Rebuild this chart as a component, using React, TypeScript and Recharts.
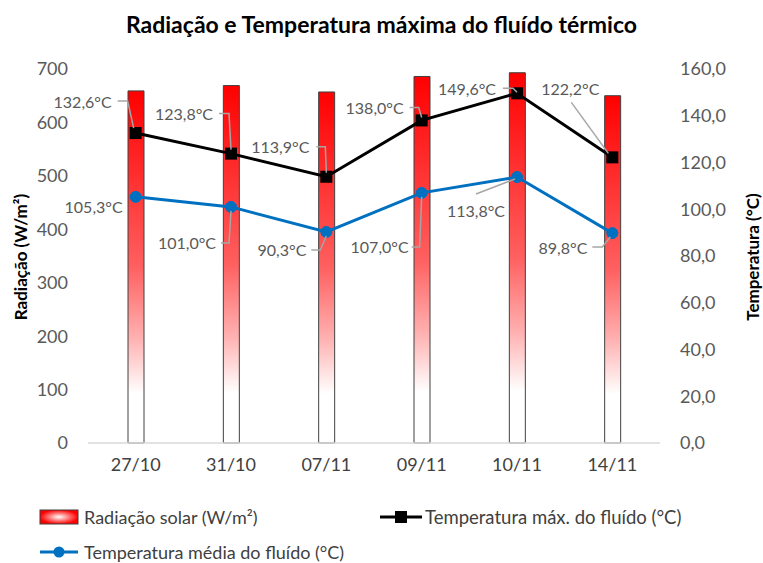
import React from "react";
import {
  ComposedChart,
  Bar,
  Line,
  XAxis,
  YAxis,
  Legend,
  LabelList,
  Label,
} from "recharts";

const categories = ["27/10", "31/10", "07/11", "09/11", "10/11", "14/11"];
const radiation = [659, 669, 657, 686, 693, 650];
const tempMax = [132.6, 123.8, 113.9, 138.0, 149.6, 122.2];
const tempMean = [105.3, 101.0, 90.3, 107.0, 113.8, 89.8];
const radTicks = [0, 100, 200, 300, 400, 500, 600, 700];
const tempTicks = [0, 20, 40, 60, 80, 100, 120, 140, 160];

const FONT = "Lato, 'Liberation Sans', sans-serif";

// label placement relative to the point: text anchor + leader line
type LabelPos = { tx: number; ty: number; anchor: "end" | "middle"; leader: number[][] };

const maxLabelPos: LabelPos[] = [
  { tx: -24, ty: -32, anchor: "end", leader: [[-18, -32], [-8, -32], [-2, -5]] },
  { tx: -18, ty: -40, anchor: "end", leader: [[-12, -40], [-2, -40], [0, -4]] },
  { tx: -17, ty: -30, anchor: "end", leader: [[-10, -30], [-1, -30], [0, -4]] },
  { tx: -18, ty: -13, anchor: "end", leader: [[-12, -13], [-3, -13], [0, -3]] },
  { tx: -21, ty: -5, anchor: "end", leader: [[-14, -5], [-4, -5], [0, -1]] },
  { tx: -42, ty: -69, anchor: "middle", leader: [[-41, -55], [-4, -4]] },
];

const meanLabelPos: LabelPos[] = [
  { tx: -13, ty: 10, anchor: "end", leader: [] },
  { tx: -15, ty: 36, anchor: "end", leader: [[-10, 36], [-2, 36], [0, 4]] },
  { tx: -20, ty: 18, anchor: "end", leader: [[-15, 18], [-6, 18], [0, 4]] },
  { tx: -13, ty: 54, anchor: "end", leader: [[-10, 54], [-2, 54], [0, 4]] },
  { tx: -41, ty: 34, anchor: "middle", leader: [[-41, 17], [-2, 2]] },
  { tx: -25, ty: 14, anchor: "end", leader: [[-20, 14], [-10, 14], [-2, 4]] },
];

const data = categories.map((cat, i) => ({
  cat,
  rad: radiation[i],
  max: tempMax[i],
  mean: tempMean[i],
}));

const fmt = (v: number) => v.toFixed(1).replace(".", ",");

const makeLabel = (positions: LabelPos[]) => (props: any) => {
  const { x, y, value, index } = props;
  const p = positions[index];
  if (!p) return null;
  const pts = p.leader.map(([dx, dy]) => `${x + dx},${y + dy}`).join(" ");
  return (
    <g>
      {p.leader.length > 0 && (
        <polyline points={pts} fill="none" stroke="#a6a6a6" strokeWidth={1.5} />
      )}
      <text
        x={x + p.tx}
        y={y + p.ty}
        textAnchor={p.anchor}
        dominantBaseline="central"
        fill="#595959"
        fontSize={16}
        fontFamily={FONT}
      >
        {fmt(value)}°C
      </text>
    </g>
  );
};

const SquareDot = (props: any) => {
  const { cx, cy, index } = props;
  return <rect key={"sq" + index} x={cx - 6} y={cy - 6} width={12} height={12} fill="#000" />;
};

const axisTitle = (text: string, dx: number, size: number) => (props: any) => {
  const vb = props.viewBox;
  const cx = vb.x + dx;
  const cy = 257;
  return (
    <text
      x={cx}
      y={cy}
      transform={`rotate(-90 ${cx} ${cy})`}
      textAnchor="middle"
      dominantBaseline="central"
      fontWeight="bold"
      fontSize={size}
      fill="#000"
      fontFamily={FONT}
    >
      {text}
    </text>
  );
};

const renderLegend = () => {
  const txt: React.CSSProperties = {
    position: "absolute",
    fontSize: 18,
    color: "#404040",
    fontFamily: FONT,
    lineHeight: "20px",
    whiteSpace: "nowrap",
  };
  return (
    <div style={{ position: "relative", height: 90 }}>
      <svg style={{ position: "absolute", left: 0, top: 0 }} width={763} height={90}>
        <defs>
          <radialGradient id="legGrad" cx="50%" cy="50%" r="50%">
            <stop offset="0%" stopColor="#ffffff" />
            <stop offset="100%" stopColor="#ff0000" />
          </radialGradient>
        </defs>
        <rect x={40} y={37} width={38} height={14} fill="url(#legGrad)" stroke="#404040" strokeWidth={1} />
        <line x1={380} y1={44} x2={422} y2={44} stroke="#000" strokeWidth={3} />
        <rect x={395} y={38} width={12} height={12} fill="#000" />
        <line x1={40} y1={79} x2={78} y2={79} stroke="#0070C0" strokeWidth={3} />
        <circle cx={59} cy={79} r={5.5} fill="#0070C0" />
      </svg>
      <span style={{ ...txt, left: 84, top: 34 }}>Radiação solar (W/m²)</span>
      <span style={{ ...txt, left: 425, top: 34, fontSize: 18.5 }}>Temperatura máx. do fluído (°C)</span>
      <span style={{ ...txt, left: 84, top: 69 }}>Temperatura média do fluído (°C)</span>
    </div>
  );
};

export default function App() {
  return (
    <div style={{ position: "absolute", left: 0, top: 0, width: 763, height: 563, background: "#fff" }}>
      <div
        style={{
          position: "absolute",
          left: 0,
          top: 10,
          width: 763,
          textAlign: "center",
          fontFamily: FONT,
          fontWeight: "bold",
          fontSize: 23,
          color: "#000",
        }}
      >
        Radiação e Temperatura máxima do fluído térmico
      </div>
      <ComposedChart
        width={763}
        height={563}
        data={data}
        margin={{ top: 69, right: 0, bottom: 0, left: 0 }}
      >
        <defs>
          <linearGradient id="barGrad" x1="0" y1="0" x2="0" y2="1">
            <stop offset="0%" stopColor="#ff0000" />
            <stop offset="50%" stopColor="#ff6060" />
            <stop offset="70%" stopColor="#ffb0b0" />
            <stop offset="86%" stopColor="#ffffff" />
            <stop offset="100%" stopColor="#ffffff" />
          </linearGradient>
        </defs>
        <XAxis
          dataKey="cat"
          axisLine={{ stroke: "#d9d9d9", strokeWidth: 1.5 }}
          tickLine={false}
          tickSize={0}
          tickMargin={15}
          tick={{ fill: "#404040", fontSize: 18, fontFamily: FONT }}
        />
        <YAxis
          yAxisId="left"
          width={88}
          domain={[0, 700]}
          ticks={radTicks}
          axisLine={false}
          tickLine={false}
          tickSize={0}
          tickMargin={20}
          tick={{ fill: "#595959", fontSize: 18, fontFamily: FONT }}
        >
          <Label content={axisTitle("Radiação (W/m²)", 20, 17)} />
        </YAxis>
        <YAxis
          yAxisId="right"
          orientation="right"
          width={103}
          domain={[0, 160]}
          ticks={tempTicks}
          tickFormatter={(v: number) => fmt(v)}
          axisLine={false}
          tickLine={false}
          tickSize={0}
          tickMargin={20}
          tick={{ fill: "#595959", fontSize: 18, fontFamily: FONT, textAnchor: "start" }}
        >
          <Label content={axisTitle("Temperatura (°C)", 92, 17)} />
        </YAxis>
        <Legend verticalAlign="bottom" height={90} content={renderLegend} />
        <Bar
          yAxisId="left"
          dataKey="rad"
          name="Radiação solar (W/m²)"
          barSize={16}
          fill="url(#barGrad)"
          stroke="#404040"
          strokeWidth={1}
          isAnimationActive={false}
        />
        <Line
          yAxisId="right"
          dataKey="max"
          name="Temperatura máx. do fluído (°C)"
          stroke="#000"
          strokeWidth={3}
          dot={SquareDot}
          activeDot={false}
          isAnimationActive={false}
        >
          <LabelList dataKey="max" content={makeLabel(maxLabelPos)} />
        </Line>
        <Line
          yAxisId="right"
          dataKey="mean"
          name="Temperatura média do fluído (°C)"
          stroke="#0070C0"
          strokeWidth={3}
          dot={{ r: 5.5, fill: "#0070C0", stroke: "#0070C0", strokeWidth: 1 }}
          activeDot={false}
          isAnimationActive={false}
        >
          <LabelList dataKey="mean" content={makeLabel(meanLabelPos)} />
        </Line>
      </ComposedChart>
    </div>
  );
}
